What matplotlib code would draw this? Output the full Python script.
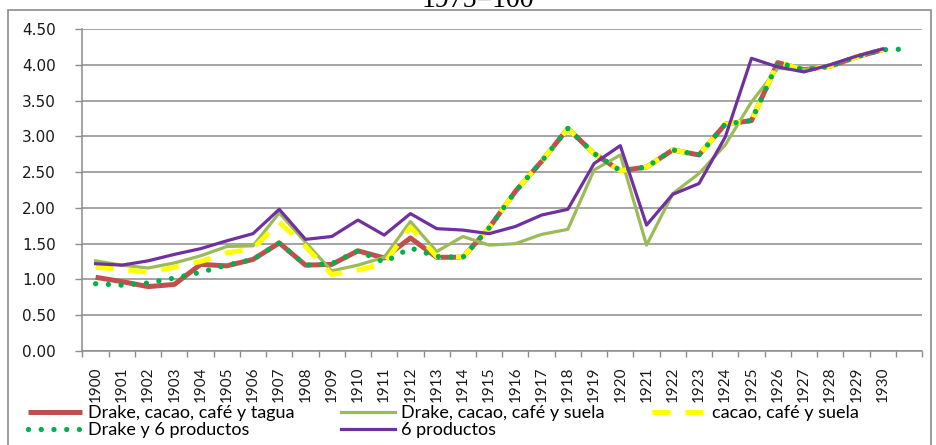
import matplotlib
matplotlib.use("Agg")
import matplotlib.pyplot as plt
import numpy as np
from matplotlib.patches import Rectangle

matplotlib.rcParams['font.family'] = 'Lato'
matplotlib.rcParams['font.size'] = 11

nan = np.nan

years = list(range(1900, 1932))
year_labels = [str(y) for y in years[:-1]] + [""]

# Drake, cacao, cafe y tagua
tagua = [1.03, 0.97, 0.90, 0.93, 1.21, 1.19, 1.28, 1.51, 1.20, 1.21,
         1.40, 1.30, 1.58, 1.31, 1.31, 1.72, 2.23, 2.65, 3.11, 2.76,
         2.52, 2.57, 2.81, 2.74, 3.17, 3.22, 4.03, 3.93, 3.98, 4.11,
         4.21, nan]
# Drake, cacao, cafe y suela
suela = [1.26, 1.20, 1.16, 1.23, 1.33, 1.46, 1.47, 1.93, 1.52, 1.12,
         1.20, 1.31, 1.81, 1.39, 1.60, 1.48, 1.50, 1.63, 1.70, 2.53,
         2.74, 1.48, 2.20, 2.48, 2.88, 3.48, 3.95, 3.93, 4.00, 4.11,
         4.22, nan]
# cacao, cafe y suela
cacao_suela = [1.17, 1.14, 1.10, 1.17, 1.25, 1.37, 1.43, 1.80, 1.46, 1.07,
               1.13, 1.22, 1.73, 1.32, 1.31, 1.72, 2.23, 2.65, 3.11, 2.76,
               2.52, 2.57, 2.81, 2.74, 3.17, 3.22, 4.03, 3.93, 3.98, 4.11,
               4.21, nan]
# Drake y 6 productos
drake6 = [0.94, 0.92, 0.95, 1.02, 1.10, 1.20, 1.28, 1.51, 1.20, 1.22,
          1.40, 1.24, 1.44, 1.32, 1.31, 1.72, 2.23, 2.65, 3.11, 2.76,
          2.52, 2.57, 2.81, 2.74, 3.17, 3.22, 4.03, 3.93, 3.98, 4.11,
          4.21, 4.22]
# 6 productos
prod6 = [1.22, 1.20, 1.26, 1.35, 1.43, 1.54, 1.64, 1.98, 1.56, 1.60,
         1.83, 1.62, 1.92, 1.71, 1.69, 1.64, 1.74, 1.90, 1.98, 2.62,
         2.87, 1.76, 2.19, 2.34, 2.99, 4.09, 3.97, 3.90, 4.00, 4.12,
         4.22, nan]

x = np.arange(len(years))

fig = plt.figure(figsize=(9.37, 4.45), dpi=100)
ax = fig.add_axes([82.5 / 937, 94 / 445, 839.5 / 937, 322 / 445])

# outer chart frame (bottom edge runs off the image)
fig.patches.append(Rectangle((8 / 937, -0.1), 923 / 937, 1.1 - 10 / 445,
                             transform=fig.transFigure, fill=False,
                             edgecolor="#8c8c8c", lw=1.2))

red = ax.plot(x, tagua, color="#C0504D", lw=3.6, solid_capstyle="butt")[0]
grn = ax.plot(x, suela, color="#9BBB59", lw=2.3)[0]
yel = ax.plot(x, cacao_suela, color="#FFFF00", lw=3.6,
              linestyle=(0, (3.6, 3.0)), dash_capstyle="butt")[0]
dot = ax.plot(x, drake6, color="#00B050", lw=3.8,
              linestyle=(0, (0.01, 2.4)), dash_capstyle="round")[0]
pur = ax.plot(x, prod6, color="#7030A0", lw=2.3)[0]

ax.set_xlim(-0.5, len(years) - 0.5)
ax.set_ylim(0, 4.5)
ax.set_yticks(np.arange(0, 4.51, 0.5))
ax.set_yticklabels([f"{v:.2f}" for v in np.arange(0, 4.51, 0.5)],
                   fontfamily="DejaVu Sans", fontsize=11, color="#1a1a1a")
ax.yaxis.grid(True, color="#8c8c8c", lw=1.1)
ax.set_axisbelow(True)

ax.set_xticks(x)
ax.set_xticklabels(year_labels, rotation=90, fontsize=11, color="#1a1a1a")
ax.set_xticks(np.arange(-0.5, len(years), 1), minor=True)
ax.tick_params(axis="x", which="major", length=0, pad=11)
ax.tick_params(axis="x", which="minor", length=4, color="#8c8c8c", width=1)
ax.tick_params(axis="y", length=5, color="#8c8c8c", width=1, pad=14)

for s in ["top", "right"]:
    ax.spines[s].set_visible(False)
for s in ["left", "bottom"]:
    ax.spines[s].set_color("#8c8c8c")
    ax.spines[s].set_linewidth(1.1)

fig.text(478 / 937, 1 - 7 / 445, "1975=100", ha="center", va="baseline",
         fontfamily="Liberation Serif", fontsize=20)

leg_kw = dict(loc="upper left", frameon=False, fontsize=13, handlelength=3.0,
              handletextpad=0.3, labelspacing=0.08, borderpad=0, borderaxespad=0)
top = 1 - 405 / 445
fig.legend([red, dot], ["Drake, cacao, café y tagua", "Drake y 6 productos"],
           bbox_to_anchor=(28 / 937, top), **leg_kw)
fig.legend([grn, pur], ["Drake, cacao, café y suela", "6 productos"],
           bbox_to_anchor=(341 / 937, top), **leg_kw)
fig.legend([yel], ["cacao, café y suela"],
           bbox_to_anchor=(652 / 937, top), **leg_kw)

plt.savefig("out.png", dpi=100)
plt.close()
